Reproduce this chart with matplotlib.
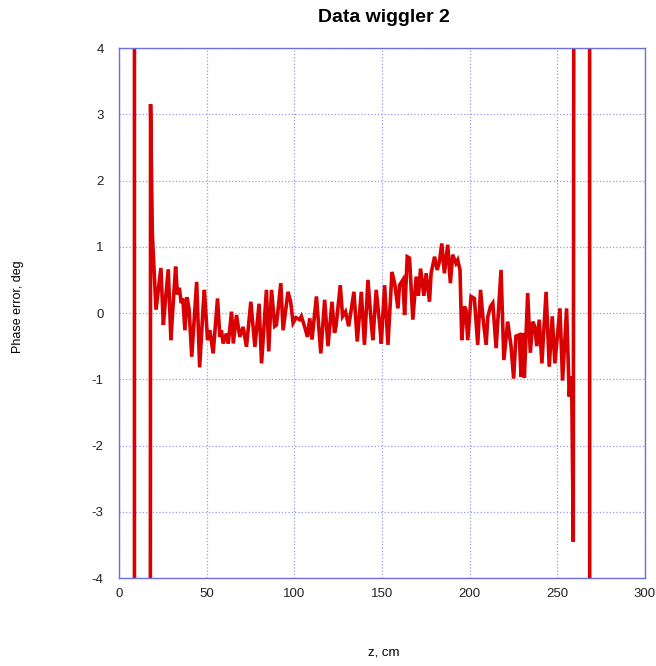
import matplotlib.pyplot as plt

plt.rcParams['font.family'] = ['Liberation Sans', 'DejaVu Sans']
plt.rcParams['axes.unicode_minus'] = False

# Turning points of the phase error trace (z in cm, phase in deg)
z = [8.8, 8.8, 17.8, 18.0, 19.0, 21.1, 22.2, 23.9, 25.3, 26.5, 28.1, 29.6, 30.8, 32.3,
     33.3, 34.4, 35.5, 36.4, 37.6, 38.8, 40.0, 41.5, 44.3, 46.0, 48.0, 48.7, 50.5,
     51.8, 53.7, 56.2, 57.5, 58.4, 59.4, 61.3, 62.3, 64.2, 65.2, 67.0, 68.9, 70.8,
     72.7, 75.2, 77.5, 79.9, 81.3, 84.1, 85.4, 87.0, 88.8, 89.8, 92.3, 93.6, 96.4,
     97.9, 99.3, 101.0, 103.0, 104.0, 105.8, 107.5, 108.8, 110.1, 112.6, 115.1,
     117.3, 119.2, 121.5, 122.9, 123.8, 126.2, 127.5, 129.2, 131.0, 134.0, 135.9,
     138.2, 140.0, 142.0, 143.9, 144.8, 146.7, 148.6, 149.6, 151.5, 153.4, 155.7,
     157.2, 159.1, 160.0, 161.9, 162.9, 164.4, 165.7, 167.6, 169.5, 170.8, 172.0,
     173.9, 175.2, 177.1, 178.0, 180.0, 181.5, 182.8, 184.1, 185.6, 187.5, 189.0,
     190.3, 192.2, 193.2, 194.5, 195.5, 197.0, 197.9, 198.9, 200.8, 202.7, 204.6,
     206.2, 207.5, 209.4, 210.4, 211.9, 213.2, 215.1, 217.9, 219.5, 221.7, 223.6,
     225.1, 226.4, 228.3, 229.3, 230.2, 231.2, 233.1, 234.6, 236.0, 237.1, 238.3,
     239.7, 241.2, 243.6, 245.4, 247.1, 248.6, 251.5, 253.0, 255.3, 256.8, 257.5,
     258.3, 259.1, 259.6, 268.4, 268.5]
phase = [10, -10, -10, 3.15, 1.2, 0.05, 0.3, 0.68, -0.18, 0.2, 0.66, -0.41, 0.1, 0.70,
         0.28, 0.38, 0.15, 0.22, -0.26, 0.24, 0.05, -0.66, 0.47, -0.82, 0.1, 0.35, -0.41,
         -0.26, -0.61, 0.22, -0.36, -0.26, -0.46, -0.31, -0.46, 0.02, -0.46, -0.03, -0.36,
         -0.21, -0.51, 0.17, -0.51, 0.14, -0.76, 0.35, -0.58, 0.35, -0.2, -0.18, 0.45,
         -0.26, 0.32, 0.17, -0.15, -0.07, -0.1, -0.05, -0.2, -0.36, -0.08, -0.4, 0.25,
         -0.61, 0.2, -0.5, 0.17, -0.3, -0.2, 0.42, -0.05, 0.02, -0.2, 0.32, -0.43,
         0.32, -0.48, 0.5, -0.16, -0.41, 0.35, -0.15, -0.46, 0.42, -0.48, 0.62,
         0.45, 0.07, 0.42, 0.5, -0.03, 0.85, 0.83, -0.1, 0.55, 0.26, 0.67,
         0.26, 0.6, 0.17, 0.6, 0.85, 0.65, 0.78, 1.05, 0.6, 1.03, 0.45,
         0.88, 0.75, 0.8, 0.65, -0.41, 0.1, 0.05, -0.41, 0.25, 0.22, -0.48,
         0.35, -0.05, -0.48, -0.05, 0.1, 0.15, -0.53, 0.65, -0.71, -0.13, -0.5,
         -0.99, -0.35, -0.33, -0.96, -0.3, -0.98, 0.3, -0.6, -0.13, -0.2, -0.5,
         -0.1, -0.76, 0.32, -0.81, -0.05, -0.76, 0.07, -1.02, 0.07, -1.26, -0.96,
         -1.3, -3.45, 10, 10, -10]

xticks = [0, 50, 100, 150, 200, 250, 300]
yticks = [-4, -3, -2, -1, 0, 1, 2, 3, 4]

fig = plt.figure(figsize=(6.56, 6.66), dpi=100)
ax = fig.add_axes([0.1814, 0.1321, 0.8018, 0.7958])

ax.plot(z, phase, color='#d80000', lw=2.6, solid_joinstyle='miter')

ax.set_xlim(0, 300)
ax.set_ylim(-4, 4)
ax.set_xticks(xticks)
ax.set_yticks(yticks)
ax.tick_params(length=0, labelsize=9.5, colors='#222222')
ax.tick_params(axis='y', pad=11)
ax.tick_params(axis='x', pad=7)
ax.grid(True, color='#9a9aec', linestyle=':', linewidth=0.9)
for s in ax.spines.values():
    s.set_color('#6f6fdc')
    s.set_linewidth(1)

fig.text(0.585, 0.974, 'Data wiggler 2', ha='center', va='center',
         fontsize=14, fontweight='bold')
fig.text(0.585, 0.02, 'z, cm', ha='center', va='center', fontsize=9.5)
fig.text(0.027, 0.54, 'Phase error, deg', ha='center', va='center',
         rotation=90, fontsize=9)

fig.savefig('out.png', dpi=100)
